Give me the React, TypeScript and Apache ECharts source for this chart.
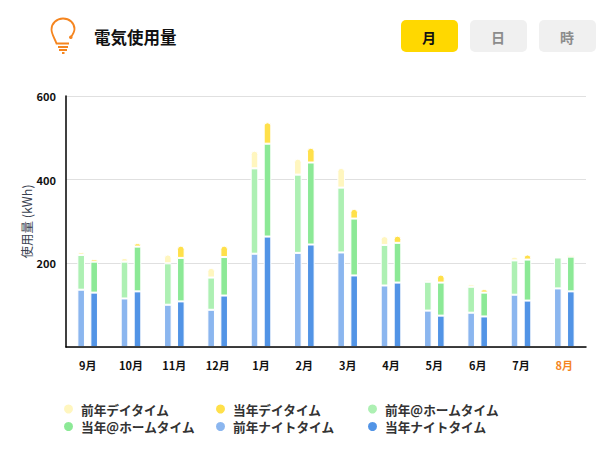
import React, { useEffect, useRef } from "react";
import * as echarts from "echarts";

const FONT = '"Noto Sans CJK JP", "Noto Sans", sans-serif';
const ORANGE = "#F5851F";

const months = ["9月", "10月", "11月", "12月", "1月", "2月", "3月", "4月", "5月", "6月", "7月", "8月"];
const prevNight = [137, 116, 101, 89, 223, 225, 226, 147, 87, 82, 125, 140];
const prevHome = [83, 88, 99, 77, 204, 187, 155, 97, 69, 62, 82, 74];
const prevDay = [7, 9, 21, 23, 42, 38, 47, 21, 5, 6, 9, 3];
const currNight = [130, 133, 109, 123, 264, 245, 171, 154, 75, 73, 111, 133];
const currHome = [74, 107, 104, 92, 222, 196, 136, 95, 79, 57, 98, 83];
const currDay = [6, 8, 29, 27, 51, 35, 23, 17, 19, 8, 12, 4];

const labelPrevDay = "前年デイタイム";
const labelCurrDay = "当年デイタイム";
const labelPrevHome = "前年@ホームタイム";
const labelCurrHome = "当年@ホームタイム";
const labelPrevNight = "前年ナイトタイム";
const labelCurrNight = "当年ナイトタイム";

const bulb =
  "M71 37 C73.5 33.5 74.5 31.5 74.5 29 C74.5 23 69.5 18.5 63 18.5 C56.5 18.5 51.5 23.5 51.5 29.5 C51.5 34 54.5 38 56.5 43.5 L69 43.5 M58 47 L68 47 M59 50 L67 50 M62 53 L64.5 53";
echarts.graphic.registerShape("bulb", echarts.graphic.extendPath(bulb, {}) as any);

function bar(name: string, stack: string, data: number[], color: string, top: boolean) {
  return {
    name,
    type: "bar",
    stack,
    data,
    barWidth: 7.6,
    barGap: "71%",
    itemStyle: {
      color,
      borderColor: "#fff",
      borderWidth: 1,
      borderRadius: top ? [3, 3, 0, 0] : 0,
    },
  };
}

function legend(left: number, names: string[]) {
  return {
    left,
    top: 397.5,
    orient: "vertical",
    icon: "circle",
    itemWidth: 11,
    itemHeight: 11,
    itemGap: 4.5,
    data: names,
    selectedMode: false,
    textStyle: { fontFamily: FONT, fontSize: 12.7, fontWeight: "bold", color: "#333", padding: [0, 0, 0, 2] },
  };
}

function button(left: number, label: string, active: boolean) {
  return [
    {
      type: "rect",
      shape: { x: left, y: 20, width: 57, height: 32, r: 5 },
      style: { fill: active ? "#FFD800" : "#F0F0F0" },
    },
    {
      type: "text",
      x: left + 28,
      y: 36.5,
      style: {
        text: label,
        align: "center",
        verticalAlign: "middle",
        font: `bold 14px ${FONT}`,
        fill: active ? "#111" : "#8c8c8c",
      },
    },
  ];
}

export default function App() {
  const ref = useRef<HTMLDivElement>(null);
  useEffect(() => {
    const chart = echarts.init(ref.current!, undefined, { renderer: "svg" });
    chart.setOption({
      animation: false,
      grid: { left: 66, right: 26, top: 96, bottom: 103, containLabel: false },
      legend: [
        legend(57, [labelPrevDay, labelCurrHome]),
        legend(209, [labelCurrDay, labelPrevNight]),
        legend(361, [labelPrevHome, labelCurrNight]),
      ],
      xAxis: {
        type: "category",
        z: 5,
        data: months.map((m, i) => ({
          value: m,
          textStyle: { color: i === months.length - 1 ? ORANGE : "#111" },
        })),
        axisLine: { lineStyle: { color: "#000", width: 1.5 } },
        axisTick: { show: false },
        axisLabel: { fontFamily: FONT, fontSize: 11, fontWeight: "bold", margin: 12, color: "#111" },
      },
      yAxis: {
        type: "value",
        min: 0,
        max: 600,
        interval: 200,
        name: "使用量 (kWh)",
        nameLocation: "middle",
        nameGap: 33,
        nameMoveOverlap: false,
        nameTextStyle: { fontFamily: FONT, fontSize: 12.5, color: "#3a4250" },
        axisLine: { show: true, lineStyle: { color: "#000", width: 1.5 } },
        axisTick: { show: false },
        splitLine: { lineStyle: { color: "#e0e0e0", width: 1 } },
        axisLabel: {
          fontFamily: FONT,
          fontSize: 11,
          fontWeight: "bold",
          color: "#111",
          margin: 10,
          formatter: (v: number) => (v === 0 ? "" : String(v)),
        },
      },
      series: [
        bar(labelPrevNight, "prev", prevNight, "#8BB6EF", false),
        bar(labelPrevHome, "prev", prevHome, "#ADF0B3", false),
        bar(labelPrevDay, "prev", prevDay, "#FFF6BF", true),
        bar(labelCurrNight, "curr", currNight, "#5294E6", false),
        bar(labelCurrHome, "curr", currHome, "#8CE996", false),
        bar(labelCurrDay, "curr", currDay, "#FFE04A", true),
      ],
      graphic: [
        {
          type: "bulb",
          x: 0,
          y: 0,
          style: { fill: "none", stroke: ORANGE, lineWidth: 1.8 },
        },
        { type: "circle", shape: { cx: 70.8, cy: 37.3, r: 1.8 }, style: { fill: ORANGE } },
        {
          type: "text",
          x: 94,
          y: 36.5,
          style: { text: "電気使用量", verticalAlign: "middle", font: `bold 16.5px ${FONT}`, fill: "#111" },
        },
        ...button(401, "月", true),
        ...button(470, "日", false),
        ...button(539, "時", false),
      ],
    });
    return () => chart.dispose();
  }, []);
  return <div ref={ref} style={{ position: "absolute", left: 0, top: 0, width: 612, height: 450 }} />;
}
